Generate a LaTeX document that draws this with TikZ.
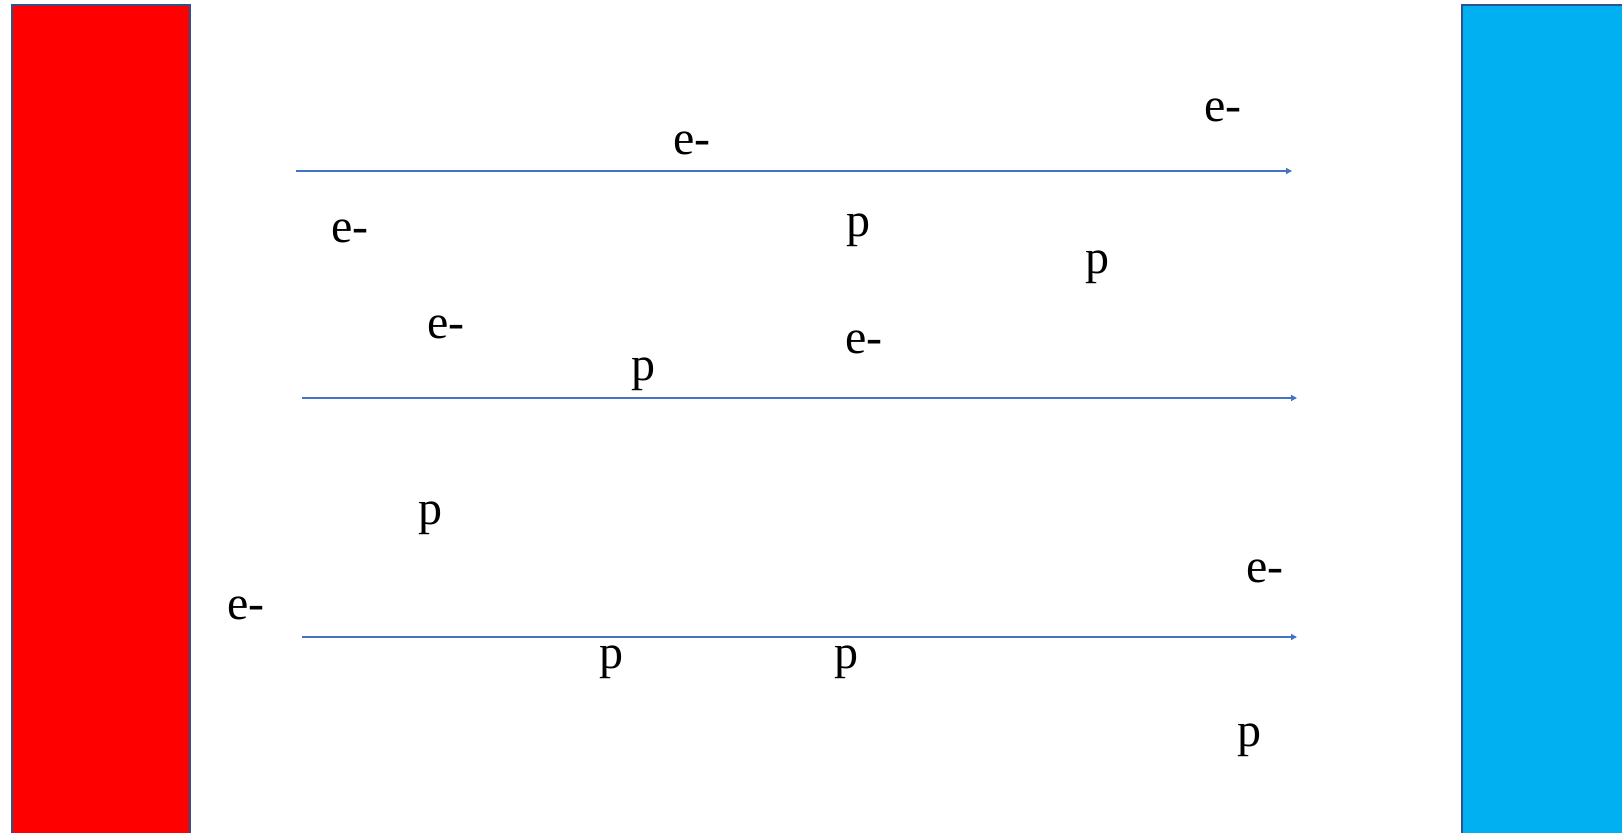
\documentclass[tikz,border=0pt]{standalone}
\usepackage{fontspec}
\setmainfont{Liberation Serif}
\usetikzlibrary{arrows.meta}
\definecolor{edgeblue}{HTML}{2F528F}
\definecolor{plateblue}{HTML}{00B0F0}
\definecolor{arrowblue}{HTML}{4472C4}
\tikzset{
  plate/.style={draw=edgeblue, line width=2bp},
  fieldline/.style={draw=arrowblue, line width=1.3bp, -{Triangle[length=6bp,width=6bp]}},
  lbl/.style={inner sep=0pt, font=\fontsize{48bp}{58bp}\selectfont}
}
\begin{document}
\begin{tikzpicture}[x=1bp,y=-1bp]
\useasboundingbox (0,0) rectangle (1622,832);
\fill[white] (0,0) rectangle (1622,832);
% plates
\filldraw[plate, fill=red] (12,5) rectangle (190,834);
\filldraw[plate, fill=plateblue] (1462,5) rectangle (1630,834);
% field lines
\coordinate (l1s) at (296,171);
\coordinate (l1e) at (1292,171);
\coordinate (l2s) at (302,398);
\coordinate (l2e) at (1297,398);
\coordinate (l3s) at (302,637);
\coordinate (l3e) at (1297,637);
\draw[fieldline] (l1s) -- (l1e);
\draw[fieldline] (l2s) -- (l2e);
\draw[fieldline] (l3s) -- (l3e);
% labels
\node[lbl] (e1) at (1223,110) {e-};
\node[lbl] (e2) at (692,143) {e-};
\node[lbl] (e3) at (350,231) {e-};
\node[lbl] (p1) at (858,230) {p};
\node[lbl] (p2) at (1097,267) {p};
\node[lbl] (e4) at (446,327) {e-};
\node[lbl] (e5) at (864,342) {e-};
\node[lbl] (p3) at (643,374) {p};
\node[lbl] (p4) at (430,518) {p};
\node[lbl] (e6) at (1265,571) {e-};
\node[lbl] (e7) at (246,608) {e-};
\node[lbl] (p5) at (611,662) {p};
\node[lbl] (p6) at (846,662) {p};
\node[lbl] (p7) at (1249,740) {p};
\end{tikzpicture}
\end{document}
